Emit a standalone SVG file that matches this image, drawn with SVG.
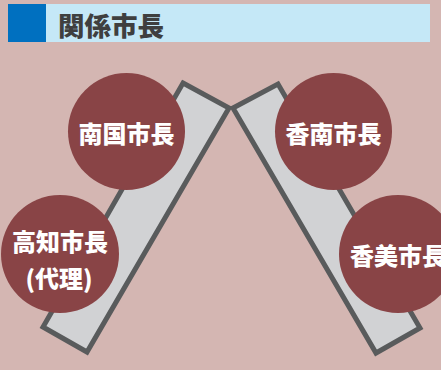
<svg xmlns="http://www.w3.org/2000/svg" width="441" height="370" viewBox="0 0 441 370">
<style>
.bar{fill:#d1d2d4;stroke:#595b5c;stroke-width:5;stroke-linejoin:miter}
.node circle{fill:#894446}
.node text{fill:#ffffff;font-family:"Noto Sans CJK JP","Noto Sans",sans-serif;font-weight:900;font-size:24px;dominant-baseline:central}
.title{fill:#3f3f3f;font-family:"Noto Sans CJK JP","Noto Sans",sans-serif;font-weight:900;font-size:26.5px;dominant-baseline:central}
</style>
<rect width="441" height="370" fill="#d4b6b2"/>
<g id="header">
<rect x="46" y="4" width="384" height="38" fill="#c5e8f7"/>
<rect x="8" y="4" width="38" height="38" fill="#0070c0"/>
<text class="title" x="58" y="24.5">関係市長</text>
</g>
<g id="connectors">
<polygon class="bar" points="183,83 229,108 87,352 43,327"/>
<polygon class="bar" points="233,108 278,84 420,328 376,353"/>
</g>
<g id="nangoku" class="node">
<circle cx="126.5" cy="131.5" r="58.5"/>
<text x="126.5" y="132" text-anchor="middle">南国市長</text>
</g>
<g id="kochi" class="node">
<circle cx="60" cy="254" r="59"/>
<text x="60" y="240" text-anchor="middle">高知市長</text>
<text x="59" y="277" text-anchor="middle">(代理)</text>
</g>
<g id="konan" class="node">
<circle cx="333.5" cy="131.5" r="58.5"/>
<text x="333.5" y="132" text-anchor="middle">香南市長</text>
</g>
<g id="kami" class="node">
<circle cx="398" cy="254" r="59"/>
<text x="350" y="254">香美市長</text>
</g>
</svg>
